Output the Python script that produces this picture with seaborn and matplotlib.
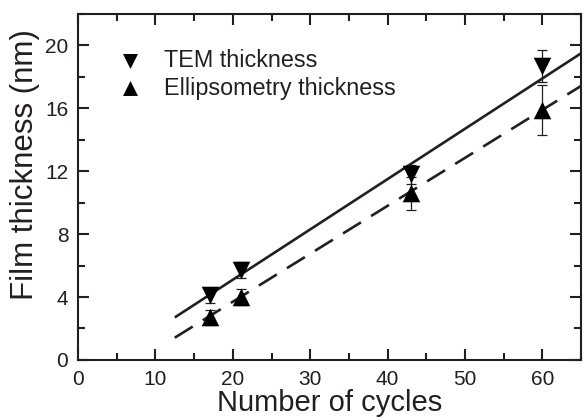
import numpy as np
import matplotlib
matplotlib.use("Agg")
import matplotlib.pyplot as plt
import seaborn as sns
from matplotlib.ticker import MultipleLocator

# Measured film thickness versus number of deposition cycles
cycles = [17, 21, 43, 60]
tem_thickness = [4.1, 5.7, 11.8, 18.7]
tem_error = [0.5, 0.5, 0.6, 1.0]
ellips_thickness = [2.7, 4.0, 10.6, 15.9]
ellips_error = [0.5, 0.5, 1.05, 1.6]

# Linear fits (slope, intercept) and the cycle range they span
tem_fit = [0.320, -1.30]
ellips_fit = [0.305, -2.40]
fit_range = [12.5, 65.0]

sns.set_theme(style="ticks")
ink = "#231f20"
plt.rcParams["font.family"] = ["Liberation Sans", "DejaVu Sans"]
plt.rcParams.update({
    "axes.edgecolor": ink, "axes.linewidth": 1.5,
    "xtick.color": ink, "ytick.color": ink,
    "xtick.labelcolor": ink, "ytick.labelcolor": ink,
    "text.color": ink, "axes.labelcolor": ink,
})

fig = plt.figure(figsize=(5.84, 4.18), dpi=100)
ax = fig.add_axes([0.1336, 0.139, 0.8614, 0.8275])

fx = np.array(fit_range)
ax.plot(fx, tem_fit[0] * fx + tem_fit[1], color=ink, lw=1.9, solid_capstyle="butt")
ax.plot(fx, ellips_fit[0] * fx + ellips_fit[1], color=ink, lw=1.9,
        dashes=(8, 4.5), dash_capstyle="butt")

ax.errorbar(cycles, tem_thickness, yerr=tem_error, fmt="none", ecolor=ink,
            elinewidth=0.9, capsize=3.5, capthick=0.9)
ax.errorbar(cycles, ellips_thickness, yerr=ellips_error, fmt="none", ecolor=ink,
            elinewidth=0.9, capsize=3.5, capthick=0.9)

sns.scatterplot(x=cycles, y=tem_thickness, marker="v", s=160, color="black",
                edgecolor="black", linewidth=0, ax=ax, label="TEM thickness", zorder=5)
sns.scatterplot(x=cycles, y=ellips_thickness, marker="^", s=160, color="black",
                edgecolor="black", linewidth=0, ax=ax, label="Ellipsometry thickness", zorder=5)

ax.set_xlim(0, 65)
ax.set_ylim(0, 22)
ax.xaxis.set_major_locator(MultipleLocator(10))
ax.xaxis.set_minor_locator(MultipleLocator(5))
ax.yaxis.set_major_locator(MultipleLocator(4))
ax.yaxis.set_minor_locator(MultipleLocator(2))
ax.tick_params(which="both", direction="in", top=True, right=True, labelsize=15, pad=7)
ax.tick_params(which="major", length=8, width=1.5)
ax.tick_params(which="minor", length=5, width=1.5)
for s in ax.spines.values():
    s.set_visible(True)

ax.set_xlabel("Number of cycles", fontsize=21)
ax.xaxis.set_label_coords(0.5, -0.085)
ax.xaxis.label.set_va("top")
ax.set_ylabel("Film thickness (nm)", fontsize=22.5)
ax.yaxis.set_label_coords(-0.076, 0.564)

leg = ax.legend(loc="upper left", bbox_to_anchor=(0.056, 0.899), frameon=False,
                fontsize=16.8, handletextpad=0.47, labelspacing=0.2,
                markerscale=0.85, borderaxespad=0, borderpad=0)

fig.savefig("out.png", dpi=100)
